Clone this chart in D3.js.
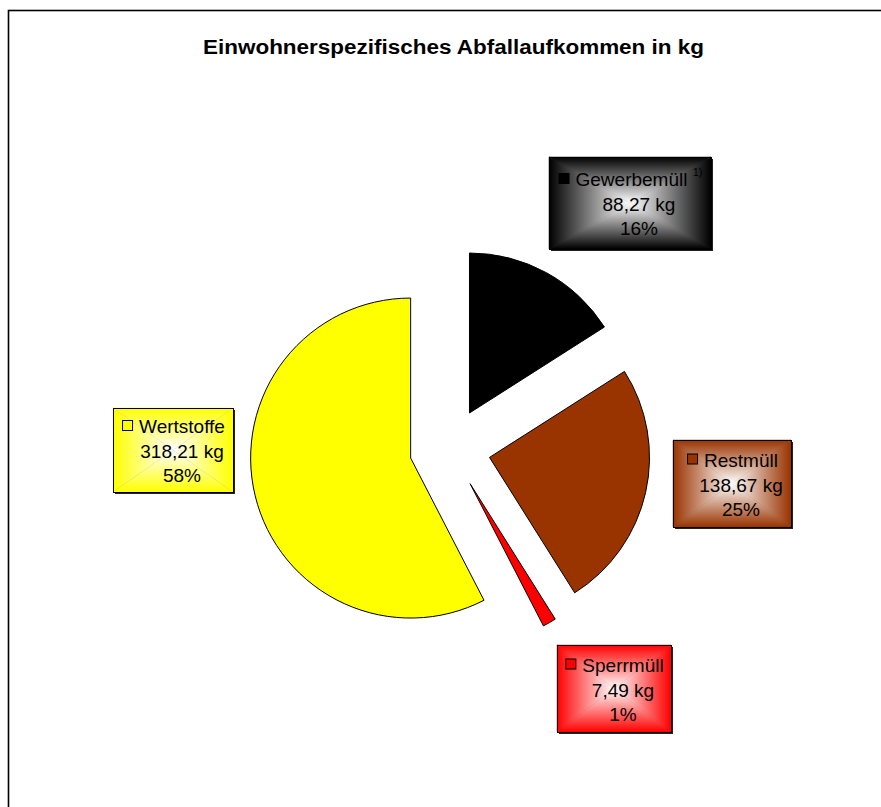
<!DOCTYPE html>
<html>
<head>
<meta charset="utf-8">
<script src="https://cdn.jsdelivr.net/npm/d3@7"></script>
<style>
  html, body { margin: 0; padding: 0; background: #fff; }
  svg { display: block; font-family: "Liberation Sans", Arial, sans-serif; }
</style>
</head>
<body>
<svg id="chart" width="881" height="807"></svg>
<script>
var title = 'Einwohnerspezifisches Abfallaufkommen in kg';
var categories = ['Gewerbemüll', 'Restmüll', 'Sperrmüll', 'Wertstoffe'];
var values = [88.27, 138.67, 7.49, 318.21];
var footnotes = ['1)', '', '', ''];
var colors = ['#000000', '#993300', '#ff0000', '#ffff00'];

// label boxes (layout only): x, y, width, height
var boxes = [
  [549, 157, 162, 92],
  [673, 440, 118, 87],
  [557, 645, 114, 87],
  [113, 408, 120, 84]
];

var width = 881, height = 807;
var cx = 450, cy = 448.5, radius = 160, explode = 40.5;

var svg = d3.select('#chart');
var defs = svg.append('defs');

var de = d3.formatLocale({decimal: ',', thousands: '.', grouping: [3], currency: ['', ' €']});
var fmtKg = de.format('.2f');
var total = d3.sum(values);

// outer frame, runs off the right and bottom edge
svg.append('rect')
  .attr('x', 8.5).attr('y', 10.5)
  .attr('width', width + 20).attr('height', height + 20)
  .attr('fill', 'none').attr('stroke', '#000').attr('stroke-width', 1.6);

svg.append('text')
  .attr('x', 453.5).attr('y', 54)
  .attr('text-anchor', 'middle')
  .attr('font-size', 20).attr('font-weight', 'bold')
  .attr('textLength', 501).attr('lengthAdjust', 'spacingAndGlyphs')
  .text(title);

var pie = d3.pie().sort(null).value(function (d) { return d; });
var arc = d3.arc().innerRadius(0).outerRadius(radius);
var arcs = pie(values);

svg.append('g')
  .attr('transform', 'translate(' + cx + ',' + cy + ')')
  .selectAll('path')
  .data(arcs)
  .join('path')
  .attr('transform', function (d) {
    var a = (d.startAngle + d.endAngle) / 2;
    return 'translate(' + (Math.sin(a) * explode) + ',' + (-Math.cos(a) * explode) + ')';
  })
  .attr('d', arc)
  .attr('fill', function (d, i) { return colors[i]; })
  .attr('stroke', '#000')
  .attr('stroke-width', 1)
  .attr('stroke-linejoin', 'round');

// data labels with a rectangular "from centre" gradient
var labels = svg.append('g');

boxes.forEach(function (b, i) {
  var x = b[0], y = b[1], w = b[2], h = b[3];
  var mx = x + w / 2, my = y + h / 2;
  var g = labels.append('g');

  g.append('rect')
    .attr('x', x + 2).attr('y', y + 2).attr('width', w).attr('height', h)
    .attr('fill', '#222');

  var sides = [
    {from: [mx, y], pts: [[x, y], [x + w, y], [mx, my]]},
    {from: [x + w, my], pts: [[x + w, y], [x + w, y + h], [mx, my]]},
    {from: [mx, y + h], pts: [[x + w, y + h], [x, y + h], [mx, my]]},
    {from: [x, my], pts: [[x, y + h], [x, y], [mx, my]]}
  ];
  sides.forEach(function (s, j) {
    var id = 'grad' + i + '_' + j;
    var lg = defs.append('linearGradient')
      .attr('id', id)
      .attr('gradientUnits', 'userSpaceOnUse')
      .attr('x1', s.from[0]).attr('y1', s.from[1])
      .attr('x2', mx).attr('y2', my);
    lg.append('stop').attr('offset', 0).attr('stop-color', colors[i]);
    lg.append('stop').attr('offset', 1).attr('stop-color', '#ffffff');
    g.append('path')
      .attr('d', 'M' + s.pts.map(function (p) { return p.join(','); }).join('L') + 'Z')
      .attr('fill', 'url(#' + id + ')')
      .attr('stroke', 'url(#' + id + ')')
      .attr('stroke-width', 0.5);
  });

  g.append('rect')
    .attr('x', x + 0.5).attr('y', y + 0.5).attr('width', w).attr('height', h)
    .attr('fill', 'none').attr('stroke', '#000').attr('stroke-width', 1);

  var tx = mx + 9, base = my + 8;
  var lines = [categories[i], fmtKg(values[i]) + ' kg', Math.round(values[i] / total * 100) + '%'];
  var offs = [-25, 0, 24];

  lines.forEach(function (t, k) {
    var txt = g.append('text')
      .attr('x', tx).attr('y', base + offs[k])
      .attr('text-anchor', 'middle')
      .attr('font-size', 19)
      .attr('fill', '#000');
    txt.append('tspan').text(t);
    if (k === 0 && footnotes[i]) {
      txt.append('tspan').text('\u00a0');
      txt.append('tspan')
        .attr('font-size', 11).attr('dy', -10)
        .text(footnotes[i]);
    }
  });

  // legend key to the left of the category name
  var nameNode = g.select('text').node();
  var bb = nameNode.getBBox();
  var firstSpan = nameNode.firstChild.getComputedTextLength();
  var keyX = Math.max(x + 6, bb.x - 17);
  g.append('rect')
    .attr('x', keyX + 0.5).attr('y', base - 25 - 12.5)
    .attr('width', 10).attr('height', 10)
    .attr('fill', colors[i]).attr('stroke', '#000').attr('stroke-width', 1);
});
</script>
</body>
</html>
